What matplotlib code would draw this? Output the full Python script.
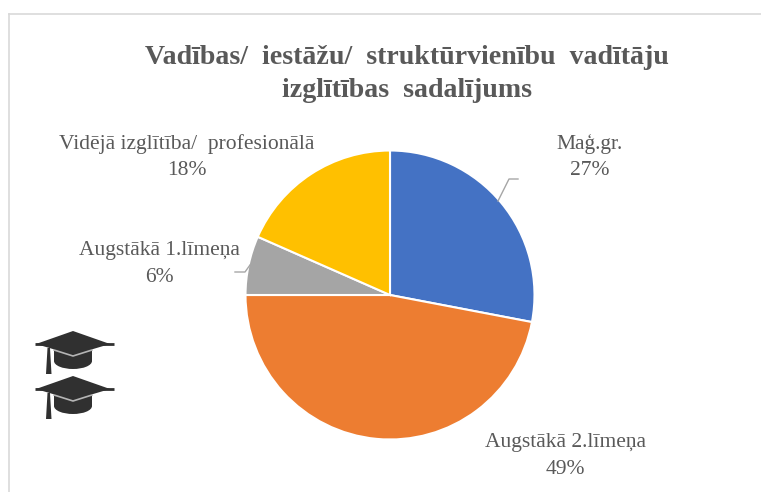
#!/usr/bin/env python

"""
Pie chart of education levels of heads of institutions
"""

import matplotlib
matplotlib.use('Agg')
import matplotlib.pyplot as plt
from matplotlib.patches import Polygon, Ellipse, Rectangle

plt.rcParams['font.family'] = ['Liberation Serif', 'DejaVu Serif']

title = 'Vadības/  iestāžu/  struktūrvienību  vadītāju\nizglītības  sadalījums'
categories = ['Maģ.gr.', 'Augstākā 2.līmeņa', 'Augstākā 1.līmeņa', 'Vidējā izglītība/  profesionālā']
percent_labels = ['27%', '49%', '6%', '18%']
# slice sizes as drawn, they do not quite follow the printed percentages
slice_sizes = [28.0, 47.0, 6.6, 18.4]
colors = ['#4472C4', '#ED7D31', '#A5A5A5', '#FFC000']
label_xy = [(590, 157), (565.5, 456), (159.5, 264), (186.5, 157)]
leader_lines = [[(498, 201), (509, 179), (518, 179)], None, [(250, 265), (245, 272), (235, 272)], None]

TEXT = '#595959'


def draw_cap(ax, top):
    # top is the pixel row of the peak of the cap, counted from the top of the image
    dark = '#303030'
    def y(dy):
        return 492 - top - dy
    ax.add_patch(Rectangle((54, y(30)), 38, 12, color=dark, lw=0))
    ax.add_patch(Ellipse((73, y(30)), 38, 16, color=dark, lw=0))
    ax.plot([54, 73, 92], [y(19), y(25), y(19)], color='#b5b5b5', lw=1.2)
    ax.add_patch(Polygon([(36, y(13)), (73, y(0)), (110, y(13)), (73, y(24))],
                         closed=True, color=dark, lw=0))
    ax.plot([35, 114], [y(13), y(13)], color=dark, lw=2, solid_capstyle='butt')
    ax.add_patch(Polygon([(47.5, y(17)), (50, y(17)), (51.5, y(43)), (46, y(43))],
                         closed=True, color=dark, lw=0))


def main():
    fig = plt.figure(figsize=(7.61, 4.92), dpi=100)
    ax = fig.add_axes([0, 0, 1, 1])
    ax.pie(slice_sizes, colors=colors, startangle=90, counterclock=False,
           center=(390, 197), radius=144.5, frame=True,
           wedgeprops={'edgecolor': 'white', 'linewidth': 1.5})
    ax.set_xlim(0, 761)
    ax.set_ylim(0, 492)
    ax.axis('off')

    # frame of the chart, only top and left show
    ax.plot([9, 9], [0, 478], color='#d9d9d9', lw=1.2)
    ax.plot([9, 761], [478, 478], color='#d9d9d9', lw=1.2)

    ax.text(406.5, 418, title, ha='center', va='center', fontsize=20.1, fontweight='bold',
            color=TEXT, linespacing=1.45)

    for cat, pct, (x, y), line in zip(categories, percent_labels, label_xy, leader_lines):
        ax.text(x, 492 - y, cat + '\n' + pct, ha='center', va='center', fontsize=15.5,
                color=TEXT, linespacing=1.52)
        if line:
            ax.plot([p[0] for p in line], [492 - p[1] for p in line], color='#a6a6a6', lw=1)

    draw_cap(ax, 331)
    draw_cap(ax, 376)

    fig.savefig('out.png', dpi=100)


if __name__ == "__main__":
    main()
